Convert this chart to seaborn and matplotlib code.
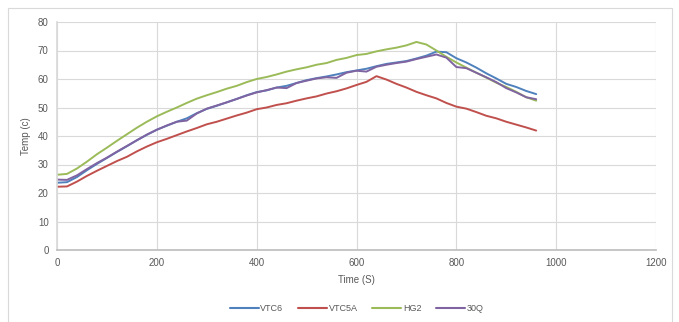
import matplotlib
matplotlib.use("Agg")
import matplotlib.pyplot as plt
import seaborn as sns
import pandas as pd
from matplotlib.patches import Rectangle

time_s = list(range(0, 961, 20))

vtc6 = [23.6, 23.8, 25.6, 28.0, 30.2, 32.3, 34.4, 36.4, 38.5, 40.4, 42.2, 43.6, 45.0, 46.2, 48.0,
        49.5, 50.6, 51.8, 53.0, 54.3, 55.4, 56.0, 57.0, 57.6, 58.6, 59.6, 60.3, 60.9, 61.6, 62.4,
        63.0, 63.6, 64.5, 65.3, 65.8, 66.3, 67.2, 68.2, 69.6, 69.4, 67.3, 65.8, 64.0, 62.0, 60.2,
        58.3, 57.2, 55.8, 54.7]
vtc5a = [22.2, 22.3, 24.0, 26.0, 27.8, 29.5, 31.2, 32.7, 34.6, 36.3, 37.8, 39.0, 40.3, 41.6, 42.8,
         44.1, 45.0, 46.1, 47.2, 48.2, 49.4, 50.0, 50.9, 51.5, 52.4, 53.2, 53.9, 54.9, 55.7, 56.7,
         57.9, 59.0, 61.0, 59.8, 58.3, 57.0, 55.5, 54.3, 53.2, 51.6, 50.3, 49.6, 48.4, 47.1, 46.2,
         45.0, 44.0, 43.0, 41.9]
hg2 = [26.4, 26.7, 28.6, 31.0, 33.6, 35.9, 38.3, 40.6, 42.9, 45.0, 46.9, 48.5, 50.0, 51.6, 53.1,
       54.3, 55.4, 56.6, 57.6, 58.9, 60.0, 60.7, 61.6, 62.6, 63.4, 64.1, 65.0, 65.6, 66.7, 67.4,
       68.4, 68.8, 69.7, 70.4, 71.0, 71.8, 73.0, 72.1, 70.0, 67.8, 65.8, 64.0, 62.2, 60.5, 58.7,
       57.2, 55.5, 53.6, 52.4]
q30 = [24.7, 24.6, 26.2, 28.4, 30.5, 32.4, 34.5, 36.5, 38.5, 40.5, 42.2, 43.7, 45.0, 45.4, 47.9,
       49.6, 50.7, 51.8, 53.0, 54.2, 55.3, 56.1, 57.0, 56.8, 58.6, 59.4, 60.2, 60.6, 60.4, 62.2,
       62.9, 62.6, 64.3, 65.0, 65.6, 66.1, 67.0, 67.8, 68.6, 67.5, 64.2, 63.8, 62.2, 60.6, 58.9,
       56.8, 55.3, 53.6, 52.9]

series_names = ["VTC6", "VTC5A", "HG2", "30Q"]
colors = ["#4F81BD", "#C0504D", "#9BBB59", "#8064A2"]
x_ticks = [0, 200, 400, 600, 800, 1000, 1200]
y_ticks = [0, 10, 20, 30, 40, 50, 60, 70, 80]

frames = []
for name, vals in zip(series_names, [vtc6, vtc5a, hg2, q30]):
    frames.append(pd.DataFrame({"Time (S)": time_s, "Temp (c)": vals, "series": name}))
df = pd.concat(frames, ignore_index=True)

sns.set_theme(style="white")
plt.rcParams["font.family"] = ["Liberation Sans", "DejaVu Sans"]

fig = plt.figure(figsize=(6.79, 3.22), dpi=100)
ax = fig.add_axes([57 / 679, 1 - 250 / 322, (656 - 57) / 679, (250 - 22) / 322])

fig.patches.append(Rectangle((8 / 679, -0.1), (672 - 8) / 679, 1 - 8 / 322 + 0.1,
                             transform=fig.transFigure, fill=False,
                             edgecolor="#D9D9D9", linewidth=0.8))

sns.lineplot(data=df, x="Time (S)", y="Temp (c)", hue="series", hue_order=series_names,
             palette=colors, linewidth=1.4, ax=ax, legend=True, estimator=None)

ax.set_xlim(0, 1200)
ax.set_ylim(0, 80)
ax.set_xticks(x_ticks)
ax.set_yticks(y_ticks)
ax.grid(True, color="#D9D9D9", linewidth=0.8)
ax.set_axisbelow(True)
for s in ["top", "right"]:
    ax.spines[s].set_visible(False)
ax.spines["left"].set_color("#D9D9D9")
ax.spines["bottom"].set_color("#BFBFBF")
ax.tick_params(axis="both", labelsize=7, colors="#595959", length=0, pad=6)
ax.set_xlabel("Time (S)", fontsize=7, color="#595959", labelpad=5)
ax.set_ylabel("Temp (c)", fontsize=7, color="#595959", labelpad=5)

leg = ax.legend(loc="upper center", bbox_to_anchor=(0.5, -0.2), ncol=4, frameon=False,
                fontsize=6.5, handlelength=3.2, handletextpad=0.2, columnspacing=1.6)
for t in leg.get_texts():
    t.set_color("#595959")
for h in leg.get_lines():
    h.set_linewidth(1.5)

fig.savefig("out.png", dpi=100)
